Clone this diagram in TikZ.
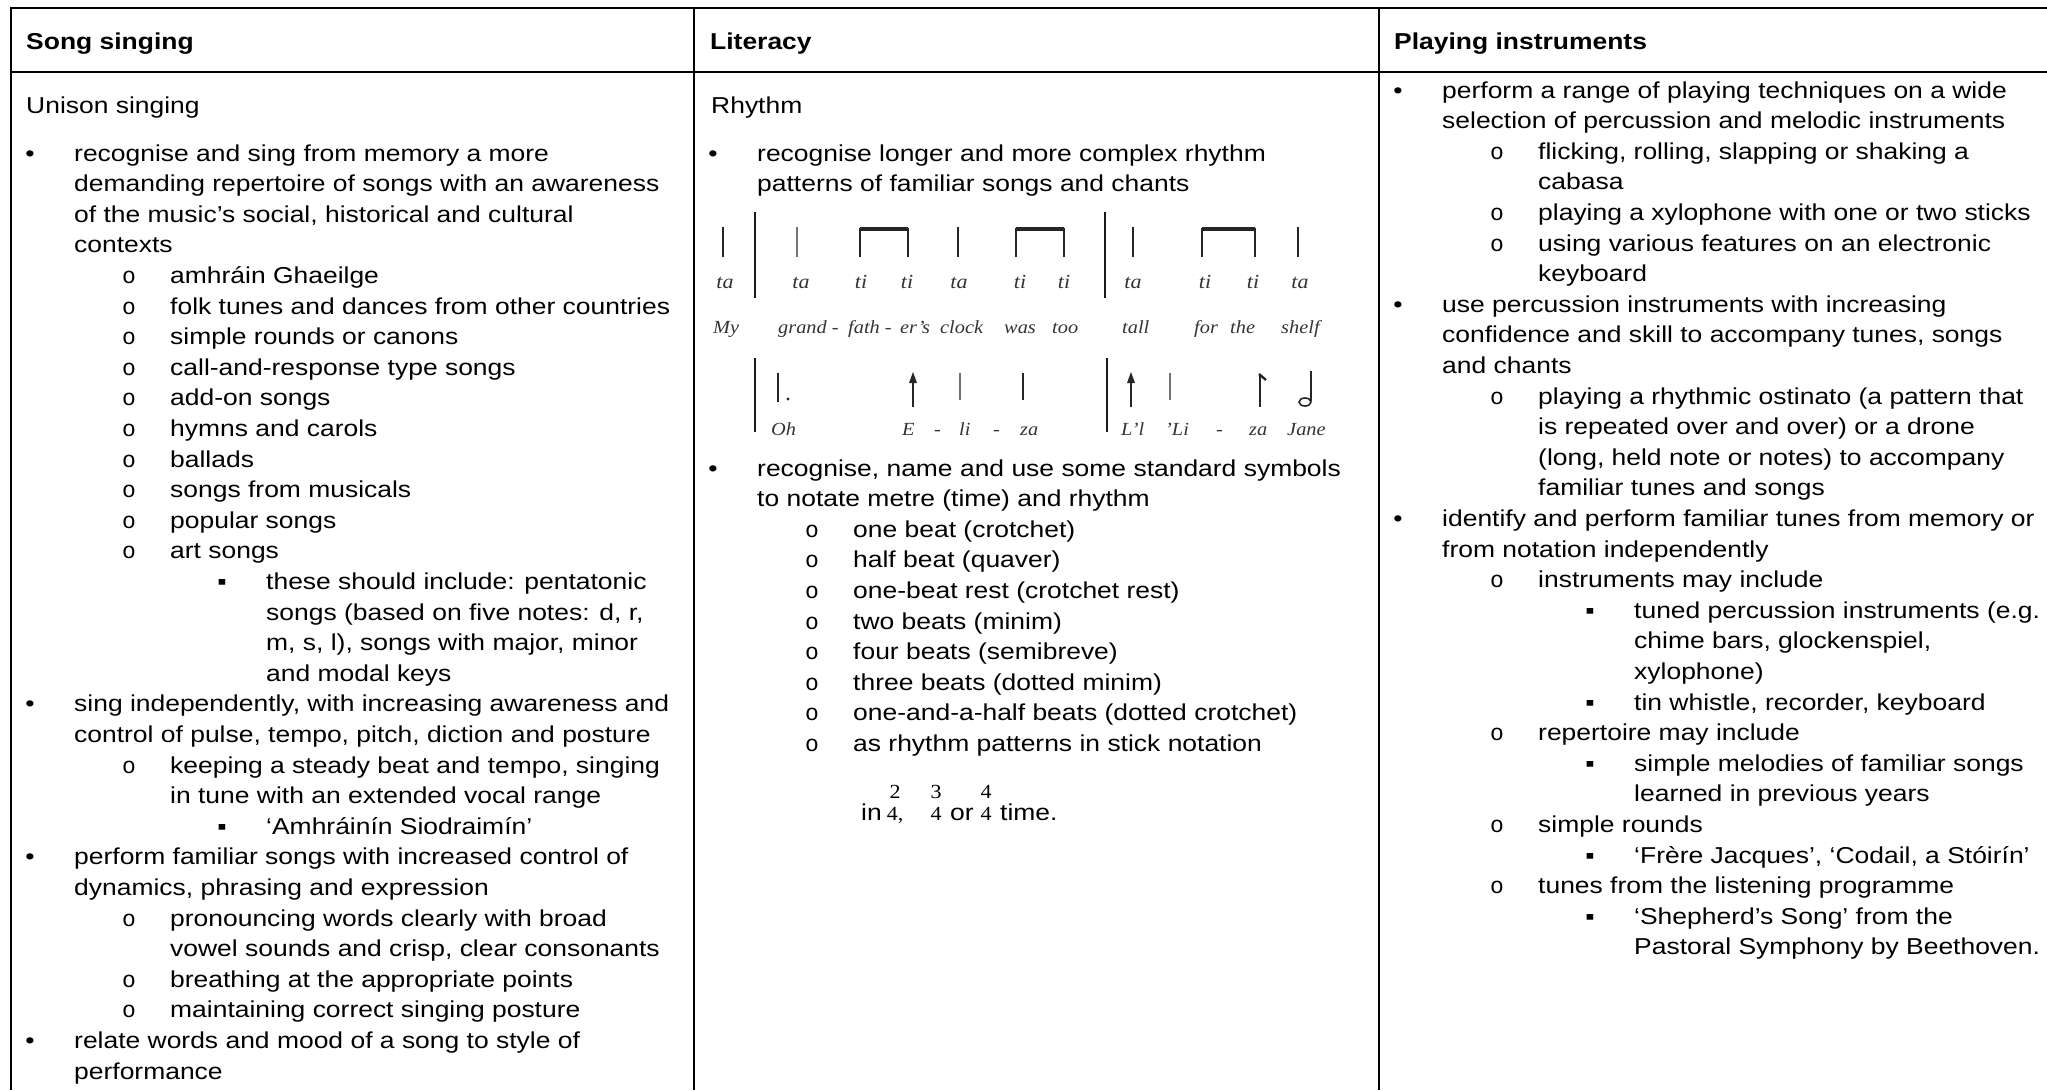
\documentclass[tikz,border=0pt]{standalone}
\usepackage{fontspec}
\setmainfont{Liberation Sans}[FakeStretch=1.15]
\newfontfamily\markfont{Liberation Mono}
\newfontfamily\scanfont{Liberation Serif}[FakeStretch=1.1]
\usetikzlibrary{calc}

\newcommand\bodyfont{\fontsize{23}{30.6}\selectfont}
\newcommand\mkglyph[1]{\ifcase#1\or\textbullet\or{\markfont o}\or ▪\fi}
% list line with marker: column, line, level, text
\newcommand\bul[4]{%
  \node[mk, lv#3mk] (m#1#2) at ($(#1)+(0,#2*30.6)$) {\mkglyph{#3}};
  \node[body, lv#3] (t#1#2) at ($(#1)+(0,#2*30.6)$) {#4};}
% continuation line
\newcommand\con[4]{%
  \node[body, lv#3] (t#1#2) at ($(#1)+(0,#2*30.6)$) {#4};}

\begin{document}
\begin{tikzpicture}[x=1pt, y=-1pt,
    rule/.style = {line width=1.3pt},
    body/.style = {anchor=base west, inner sep=0pt, font=\bodyfont},
    head/.style = {body, font=\bodyfont\bfseries},
    mk/.style = {anchor=base, inner sep=0pt, font=\bodyfont},
    lv1/.style = {xshift=63pt}, lv2/.style = {xshift=159pt}, lv3/.style = {xshift=255pt},
    lv1mk/.style = {xshift=19pt}, lv2mk/.style = {xshift=118pt}, lv3mk/.style = {xshift=211pt},
    stick/.style = {line width=2.4pt, black!85},
    faint/.style = {line width=1.4pt, black!55},
    beam/.style = {line width=4pt, black!85},
    bar/.style = {line width=2.6pt, black!90},
    syl/.style = {anchor=base, inner sep=0pt, font=\scanfont\itshape\fontsize{20}{20}\selectfont, black!80},
    lyr/.style = {syl, anchor=base west, font=\scanfont\itshape\fontsize{18.5}{18.5}\selectfont},
    sig/.style = {anchor=base, inner sep=0pt, font=\scanfont\fontsize{20}{20}\selectfont}]
\useasboundingbox (0,0) rectangle (2047,1090);

% table rules
\draw[rule] (11,1090) -- (11,8) -- (2047,8);
\draw[rule] (11,72) -- (2047,72);
\draw[rule] (694,8) -- (694,1090);
\draw[rule] (1379,8) -- (1379,1090);

% headings
\node[head] (hsong) at (26,49) {Song singing};
\node[head] (hlit) at (710,49) {Literacy};
\node[head] (hplay) at (1394,49) {Playing instruments};
\node[body] (unison) at (26,113) {Unison singing};
\node[body] (rhythm) at (711,113) {Rhythm};

\coordinate (A) at (11,161);
\coordinate (B) at (694,161);
\coordinate (D) at (694,476);
\coordinate (C) at (1379,98);

% song singing
\bul{A}{0}{1}{recognise and sing from memory a more}
\con{A}{1}{1}{demanding repertoire of songs with an awareness}
\con{A}{2}{1}{of the music’s social, historical and cultural}
\con{A}{3}{1}{contexts}
\bul{A}{4}{2}{amhráin Ghaeilge}
\bul{A}{5}{2}{folk tunes and dances from other countries}
\bul{A}{6}{2}{simple rounds or canons}
\bul{A}{7}{2}{call-and-response type songs}
\bul{A}{8}{2}{add-on songs}
\bul{A}{9}{2}{hymns and carols}
\bul{A}{10}{2}{ballads}
\bul{A}{11}{2}{songs from musicals}
\bul{A}{12}{2}{popular songs}
\bul{A}{13}{2}{art songs}
\bul{A}{14}{3}{these should include: pentatonic}
\con{A}{15}{3}{songs (based on five notes: d, r,}
\con{A}{16}{3}{m, s, l), songs with major, minor}
\con{A}{17}{3}{and modal keys}
\bul{A}{18}{1}{sing independently, with increasing awareness and}
\con{A}{19}{1}{control of pulse, tempo, pitch, diction and posture}
\bul{A}{20}{2}{keeping a steady beat and tempo, singing}
\con{A}{21}{2}{in tune with an extended vocal range}
\bul{A}{22}{3}{‘Amhráinín Siodraimín’}
\bul{A}{23}{1}{perform familiar songs with increased control of}
\con{A}{24}{1}{dynamics, phrasing and expression}
\bul{A}{25}{2}{pronouncing words clearly with broad}
\con{A}{26}{2}{vowel sounds and crisp, clear consonants}
\bul{A}{27}{2}{breathing at the appropriate points}
\bul{A}{28}{2}{maintaining correct singing posture}
\bul{A}{29}{1}{relate words and mood of a song to style of}
\con{A}{30}{1}{performance}

% literacy
\bul{B}{0}{1}{recognise longer and more complex rhythm}
\con{B}{1}{1}{patterns of familiar songs and chants}

% stick notation, first line
\draw[bar] (755,212) -- (755,298);
\draw[bar] (1105,212) -- (1105,298);
\foreach \x in {723,958,1133,1298} \draw[stick] (\x,227) -- (\x,257);
\draw[faint] (797,227) -- (797,257);
\foreach \a/\b in {860/908, 1016/1064, 1202/1255} {
  \draw[stick] (\a,257) -- (\a,228);
  \draw[stick] (\b,257) -- (\b,228);
  \draw[beam] (\a,229) -- (\b,229);
}
\foreach \x/\s [count=\k] in {725/ta, 801/ta, 861/ti, 907/ti, 959/ta, 1020/ti, 1064/ti, 1133/ta, 1205/ti, 1253/ti, 1300/ta}
  \node[syl] (syl\k) at (\x,288) {\s};
\foreach \x/\s [count=\k] in {713/My, 778/grand -, 848/fath -, 900/er’s, 940/clock, 1004/was, 1052/too, 1122/tall, 1194/for, 1230/the, 1281/shelf}
  \node[lyr] (lyrA\k) at (\x,333) {\s};

% stick notation, second line
\draw[bar] (755,358) -- (755,432);
\draw[bar] (1107,358) -- (1107,432);
\draw[stick] (778,373) -- (778,402);
\fill[black!85] (788,399) circle (1.6);
\foreach \x in {913,1131} {
  \draw[stick] (\x,378) -- (\x,407);
  \fill[black!85] (\x-4,383) -- (\x,372) -- (\x+4,383) -- cycle;
}
\draw[faint] (960,373) -- (960,400);
\draw[stick] (1023,373) -- (1023,400);
\draw[faint] (1170,373) -- (1170,400);
\draw[stick] (1260,374) -- (1260,407);
\draw[stick] (1259,374) -- (1266,380);
\draw[stick] (1311,371) -- (1311,401);
\draw[line width=1.6pt, black!85] (1305,402) ellipse (6 and 4);
\foreach \x/\s [count=\k] in {771/Oh, 902/E, 934/-, 959/li, 993/-, 1020/za, 1121/L’l, 1165/’Li, 1216/-, 1249/za, 1287/Jane}
  \node[lyr] (lyrB\k) at (\x,435) {\s};

\bul{D}{0}{1}{recognise, name and use some standard symbols}
\con{D}{1}{1}{to notate metre (time) and rhythm}
\bul{D}{2}{2}{one beat (crotchet)}
\bul{D}{3}{2}{half beat (quaver)}
\bul{D}{4}{2}{one-beat rest (crotchet rest)}
\bul{D}{5}{2}{two beats (minim)}
\bul{D}{6}{2}{four beats (semibreve)}
\bul{D}{7}{2}{three beats (dotted minim)}
\bul{D}{8}{2}{one-and-a-half beats (dotted crotchet)}
\bul{D}{9}{2}{as rhythm patterns in stick notation}

% time signatures
\node[body] (tin) at (861,820) {in};
\node[sig] (twoA) at (895,798) {2};
\node[sig] (twoB) at (895,820) {4,};
\node[sig] (threeA) at (936,798) {3};
\node[sig] (threeB) at (936,820) {4};
\node[body] (tor) at (950,820) {or};
\node[sig] (fourA) at (986,798) {4};
\node[sig] (fourB) at (986,820) {4};
\node[body] (ttime) at (1000,820) {time.};

% playing instruments
\bul{C}{0}{1}{perform a range of playing techniques on a wide}
\con{C}{1}{1}{selection of percussion and melodic instruments}
\bul{C}{2}{2}{flicking, rolling, slapping or shaking a}
\con{C}{3}{2}{cabasa}
\bul{C}{4}{2}{playing a xylophone with one or two sticks}
\bul{C}{5}{2}{using various features on an electronic}
\con{C}{6}{2}{keyboard}
\bul{C}{7}{1}{use percussion instruments with increasing}
\con{C}{8}{1}{confidence and skill to accompany tunes, songs}
\con{C}{9}{1}{and chants}
\bul{C}{10}{2}{playing a rhythmic ostinato (a pattern that}
\con{C}{11}{2}{is repeated over and over) or a drone}
\con{C}{12}{2}{(long, held note or notes) to accompany}
\con{C}{13}{2}{familiar tunes and songs}
\bul{C}{14}{1}{identify and perform familiar tunes from memory or}
\con{C}{15}{1}{from notation independently}
\bul{C}{16}{2}{instruments may include}
\bul{C}{17}{3}{tuned percussion instruments (e.g.}
\con{C}{18}{3}{chime bars, glockenspiel,}
\con{C}{19}{3}{xylophone)}
\bul{C}{20}{3}{tin whistle, recorder, keyboard}
\bul{C}{21}{2}{repertoire may include}
\bul{C}{22}{3}{simple melodies of familiar songs}
\con{C}{23}{3}{learned in previous years}
\bul{C}{24}{2}{simple rounds}
\bul{C}{25}{3}{‘Frère Jacques’, ‘Codail, a Stóirín’}
\bul{C}{26}{2}{tunes from the listening programme}
\bul{C}{27}{3}{‘Shepherd’s Song’ from the}
\con{C}{28}{3}{Pastoral Symphony by Beethoven.}
\end{tikzpicture}
\end{document}
